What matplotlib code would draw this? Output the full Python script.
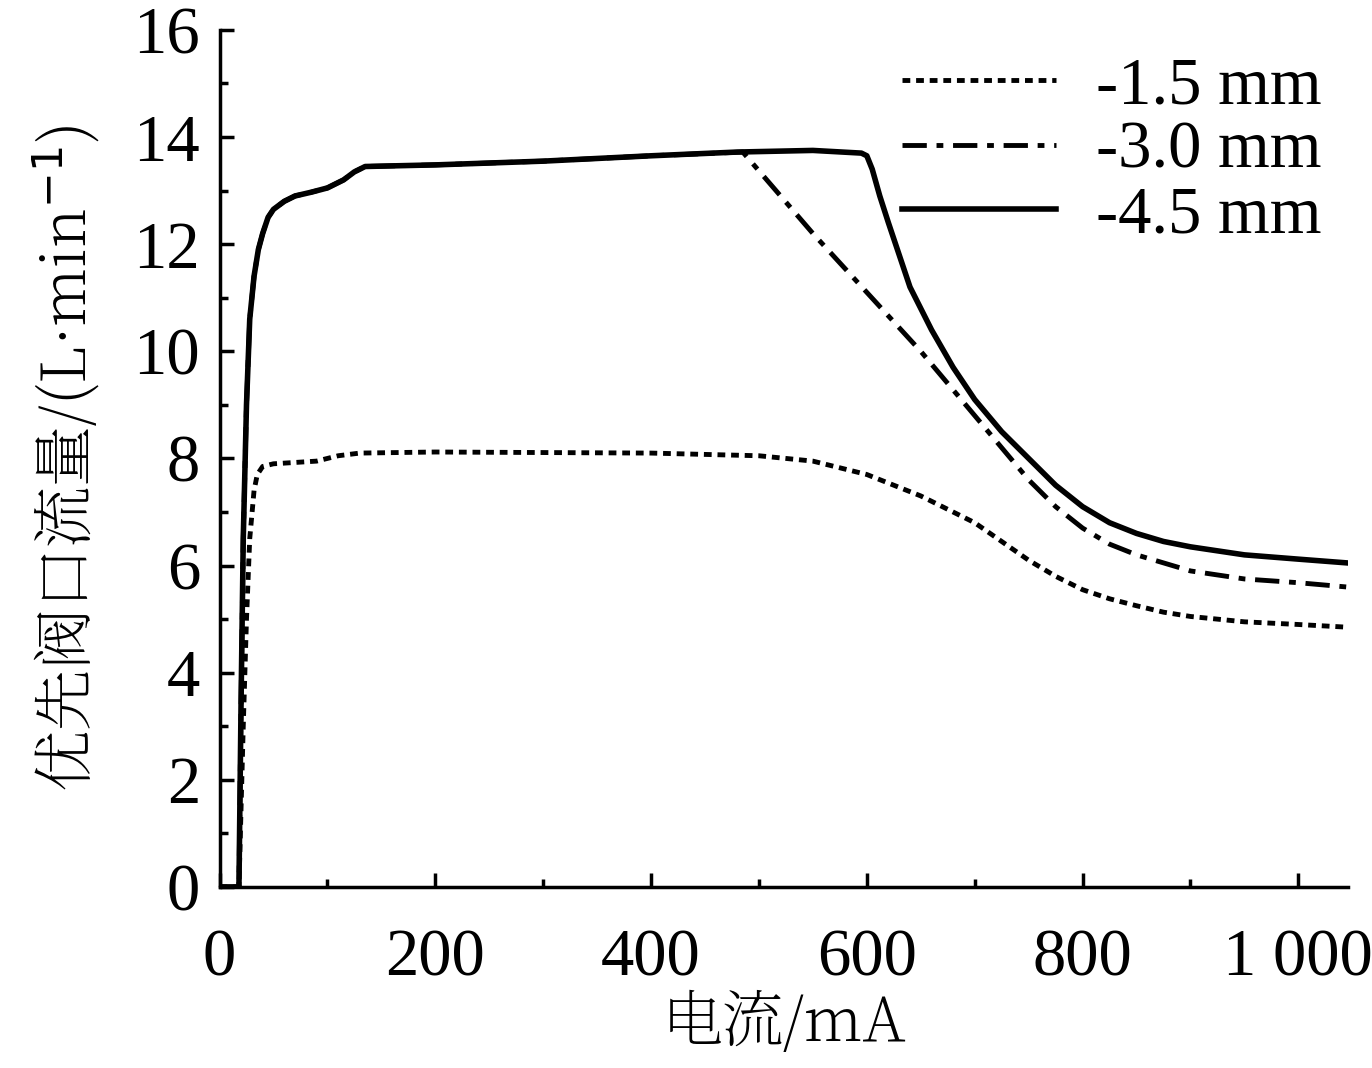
import matplotlib
matplotlib.use("Agg")
import matplotlib.pyplot as plt
from matplotlib import font_manager as fm
from matplotlib.ticker import MultipleLocator, FuncFormatter

x45 = [0,10,18,20,22,25,28,32,36,40,45,50,60,70,85,100,115,125,135,200,300,400,480,550,595,600,605,612,620,630,640,660,680,700,725,750,775,800,825,850,875,900,950,1000,1045]
y45 = [0,0,0,3.5,6.5,9.0,10.6,11.4,11.9,12.2,12.5,12.65,12.8,12.9,12.97,13.05,13.2,13.35,13.45,13.48,13.55,13.65,13.72,13.75,13.7,13.65,13.4,12.9,12.4,11.8,11.2,10.4,9.7,9.1,8.5,8.0,7.5,7.1,6.8,6.6,6.45,6.35,6.2,6.12,6.05]
x30 = [0,10,18,20,22,25,28,32,36,40,45,50,60,70,85,100,115,125,135,200,300,400,485,550,600,650,700,725,750,775,800,825,850,875,900,950,1000,1045]
y30 = [0,0,0,3.5,6.5,9.0,10.6,11.4,11.9,12.2,12.5,12.65,12.8,12.9,12.97,13.05,13.2,13.35,13.45,13.48,13.55,13.65,13.72,12.2,11.1,10.0,8.8,8.2,7.6,7.1,6.7,6.4,6.2,6.05,5.9,5.75,5.68,5.6]
x15 = [0,18,20,22,25,28,32,35,40,50,90,100,110,130,200,400,500,550,600,625,650,675,700,725,750,775,800,825,850,875,900,950,1000,1045]
y15 = [0,0,1.5,3,5,6.5,7.4,7.7,7.85,7.9,7.95,8.0,8.05,8.1,8.12,8.1,8.05,7.95,7.7,7.5,7.3,7.05,6.8,6.45,6.1,5.8,5.55,5.38,5.25,5.13,5.05,4.95,4.9,4.85]
labels = ["-1.5 mm", "-3.0 mm", "-4.5 mm"]

serif = "Liberation Serif"
cjk_prop = None
for f in fm.findSystemFonts():
    if "NotoSansCJK" in f.replace(" ", "") or "NotoSerifCJK" in f.replace(" ", ""):
        cjk_prop = fm.FontProperties(fname=f, size=44)
        if "Serif" in f:
            break
if cjk_prop is None:
    cjk_prop = fm.FontProperties(family="Noto Sans CJK SC", size=44)

fig = plt.figure(figsize=(13.72, 10.68), dpi=100)
ax = fig.add_axes([0.160, 0.1695, 0.8225, 0.8025])
ax.plot(x15, y15, color="black", lw=3.5, ls=(0, (1.6, 1.2)), label=labels[0])
ax.plot(x30, y30, color="black", lw=3.5, ls=(0, (5, 2, 1.4, 2)), label=labels[1])
ax.plot(x45, y45, color="black", lw=4, ls="-", label=labels[2])
ax.set_xlim(0, 1046)
ax.set_ylim(0, 16)
ax.spines["top"].set_visible(False)
ax.spines["right"].set_visible(False)
for s in ("left", "bottom"):
    ax.spines[s].set_linewidth(2.5)
ax.xaxis.set_major_locator(MultipleLocator(200))
ax.xaxis.set_minor_locator(MultipleLocator(100))
ax.yaxis.set_major_locator(MultipleLocator(2))
ax.yaxis.set_minor_locator(MultipleLocator(1))
ax.tick_params(which="major", direction="in", length=10, width=2.5, labelsize=48)
ax.tick_params(axis="x", pad=30)
ax.tick_params(axis="y", pad=14)
ax.tick_params(which="minor", direction="in", length=6, width=2.5)
ax.xaxis.set_major_formatter(FuncFormatter(lambda v, p: "1 000" if v == 1000 else f"{int(v)}"))
for t in ax.get_xticklabels() + ax.get_yticklabels():
    t.set_fontfamily(serif)
ax.set_xlabel("电流/mA", fontproperties=cjk_prop, labelpad=2)
ax.set_ylabel("优先阀口流量/(L·min$^{-1}$)", fontproperties=cjk_prop, labelpad=22)
ax.legend(loc="upper right", frameon=False, prop={"family": serif, "size": 48},
          handlelength=2.3, handletextpad=0.6, labelspacing=0.05, borderaxespad=0.0,
          bbox_to_anchor=(1.0, 1.0))
fig.savefig("out.png", dpi=100)
